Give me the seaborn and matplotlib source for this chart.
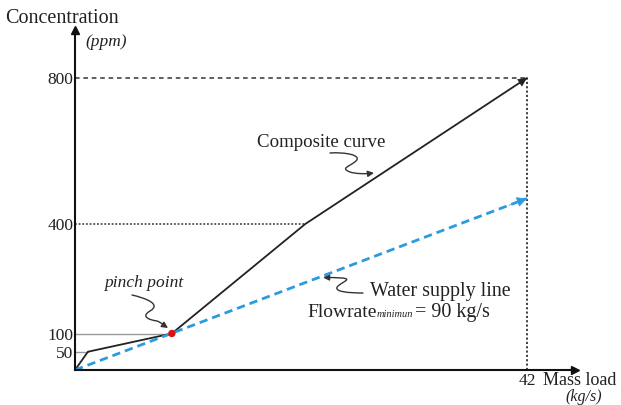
import numpy as np
import pandas as pd
import seaborn as sns
import matplotlib
matplotlib.use("Agg")
import matplotlib.pyplot as plt
from matplotlib.path import Path
from matplotlib.patches import FancyArrowPatch

# ---- data ----
composite_mass = [0, 1.2, 9.0, 21.4, 42]
composite_conc = [0, 50, 100, 400, 800]
water_mass = [0, 42]
water_conc = [0, 470]
pinch_mass = [9.0]
pinch_conc = [100]
ytick_values = [50, 100, 400, 800]
ytick_labels = ["50", "100", "400", "800"]
x_end_label = "42"

sns.set_style("white")
plt.rcParams['font.family'] = ['Liberation Serif', 'DejaVu Serif']

W, H = 621, 405
fig = plt.figure(figsize=(W / 100, H / 100), dpi=100)
ox, oy = 75, 370          # origin in pixels
xs, ys = 10.76, 0.365     # pixels per unit
ax_w, ax_h = 500, 340
ax = fig.add_axes([ox / W, (H - oy) / H, ax_w / W, ax_h / H])
ax.set_xlim(0, ax_w / xs)
ax.set_ylim(0, ax_h / ys)
ax.patch.set_alpha(0)


def p2d(px, py):
    return ((px - ox) / xs, (oy - py) / ys)


# reference lines
ax.plot([0, composite_mass[-1]], [composite_conc[-1]] * 2, ls=(0, (3, 2.5)), color="#333333", lw=1.1)
ax.plot([composite_mass[-1]] * 2, [0, composite_conc[-1]], ls=(0, (1.2, 1.2)), color="#333333", lw=1.3)
ax.plot([0, composite_mass[3]], [composite_conc[3]] * 2, ls=(0, (1.2, 1.2)), color="#333333", lw=1.1)
ax.plot([0, pinch_mass[0]], [pinch_conc[0]] * 2, color="#999999", lw=1.0)
ax.plot([0, composite_mass[1]], [composite_conc[1]] * 2, color="#999999", lw=1.0)

# curves
df_c = pd.DataFrame({"m": composite_mass, "c": composite_conc})
df_w = pd.DataFrame({"m": water_mass, "c": water_conc})
sns.lineplot(data=df_c, x="m", y="c", ax=ax, color="#222222", lw=1.3, sort=False)
sns.lineplot(data=df_w, x="m", y="c", ax=ax, color="#2b9be0", lw=2.0, linestyle=(0, (3, 1.8)), sort=False)
sns.scatterplot(x=pinch_mass, y=pinch_conc, ax=ax, color="#e01010", s=28, zorder=5, edgecolor="none")

# arrow heads at curve ends
def end_arrow(mx, cy, color, scale):
    x0, y0 = mx[-2], cy[-2]
    x1, y1 = mx[-1], cy[-1]
    t = 0.96
    ax.annotate("", xy=(x1, y1), xytext=(x0 + t * (x1 - x0), y0 + t * (y1 - y0)),
                arrowprops=dict(arrowstyle="-|>", color=color, lw=0.5, mutation_scale=scale,
                                shrinkA=0, shrinkB=0))

end_arrow(composite_mass, composite_conc, "#222222", 14)
end_arrow(water_mass, water_conc, "#2b9be0", 16)

# axes
for s in ["top", "right"]:
    ax.spines[s].set_visible(False)
for s in ["left", "bottom"]:
    ax.spines[s].set_linewidth(1.5)
    ax.spines[s].set_color("#111111")
ax.plot(1, 0, ">", color="#111111", transform=ax.transAxes, clip_on=False, ms=6)
ax.plot(0, 1, "^", color="#111111", transform=ax.transAxes, clip_on=False, ms=6)
ax.set_yticks(ytick_values)
ax.set_yticklabels(ytick_labels, fontsize=12.5, color="#222222")
ax.tick_params(axis="y", length=0, pad=1)
ax.set_xticks([])
ax.set_xlabel("")
ax.set_ylabel("")


def ftext(px, py, s, **kw):
    fig.text(px / W, 1 - py / H, s, **kw)


ftext(5, 23, "Concentration", fontsize=14.5, color="#222222", va="baseline")
ftext(85, 46, "(ppm)", fontsize=12.5, style="italic", color="#222222", va="baseline")
ftext(527, 385, x_end_label, fontsize=12.5, ha="center", va="baseline", color="#222222")
ftext(543, 385, "Mass load", fontsize=13, va="baseline", color="#222222")
ftext(565, 401, "(kg/s)", fontsize=11.5, style="italic", va="baseline", color="#222222")
ftext(321, 147, "Composite curve", fontsize=13.6, ha="center", va="baseline", color="#222222")
ftext(144, 287, "pinch point", fontsize=12.5, style="italic", ha="center", va="baseline", color="#222222")
ftext(370, 296, "Water supply line", fontsize=14.4, va="baseline", color="#222222")
ftext(307, 317, "Flowrate", fontsize=14, va="baseline", color="#222222")
ftext(377, 317, "minimun", fontsize=7.5, style="italic", va="baseline", color="#222222")
ftext(415, 317, "= 90 kg/s", fontsize=14.5, va="baseline", color="#222222")


# squiggle arrows
def squiggle(pts, codes):
    verts = [p2d(*p) for p in pts]
    path = Path(verts, codes)
    arr = FancyArrowPatch(path=path, arrowstyle="-|>", mutation_scale=9,
                          color="#333333", lw=1.0, shrinkA=0, shrinkB=0)
    ax.add_patch(arr)

C4, MT, LT = Path.CURVE4, Path.MOVETO, Path.LINETO
squiggle([(330, 153), (345, 152), (362, 155), (356, 161),
          (349, 167), (340, 168), (350, 172), (356, 174), (366, 174), (374, 173)],
         [MT, C4, C4, C4, C4, C4, C4, C4, C4, C4])
squiggle([(132, 295), (145, 298), (162, 304), (150, 311),
          (140, 317), (150, 320), (157, 321), (162, 323), (165, 326), (168, 328)],
         [MT, C4, C4, C4, C4, C4, C4, C4, C4, C4])
squiggle([(363, 293), (350, 293), (332, 292), (338, 286),
          (344, 281), (352, 279), (342, 278), (335, 277.5), (328, 277.5), (323, 277.5)],
         [MT, C4, C4, C4, C4, C4, C4, C4, C4, C4])

fig.savefig("out.png", dpi=100, facecolor="white")
